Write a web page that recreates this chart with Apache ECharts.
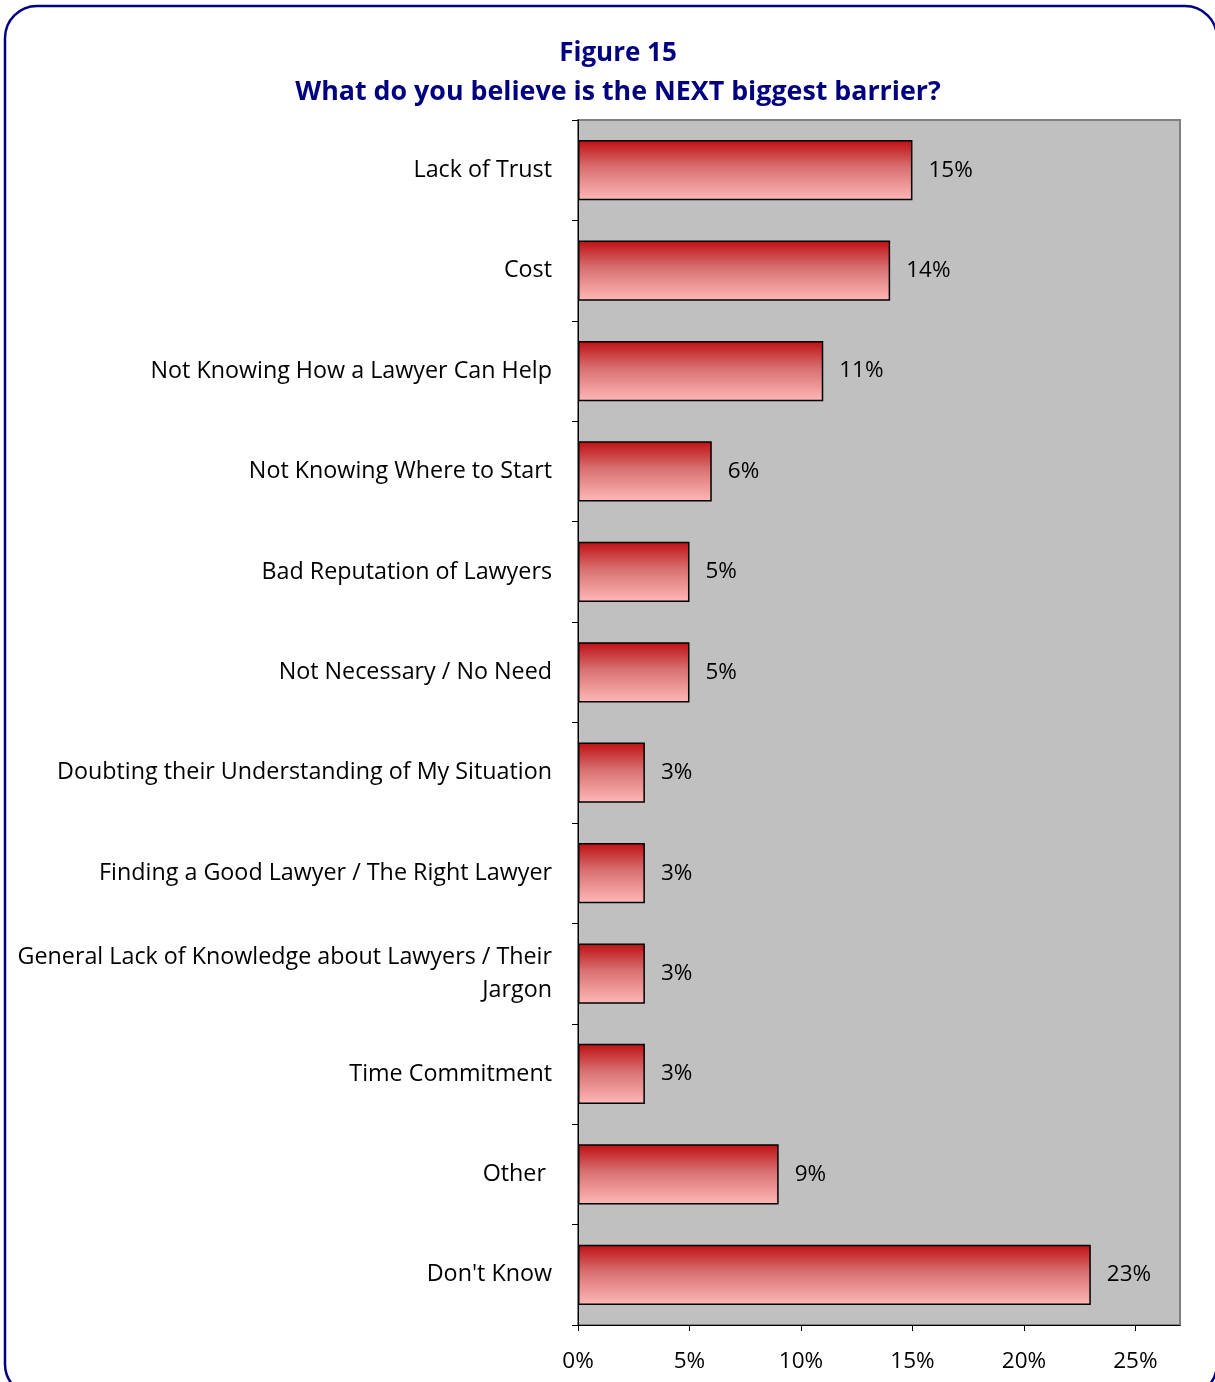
<!DOCTYPE html>
<html><head><meta charset="utf-8">
<script src="https://cdn.jsdelivr.net/npm/echarts@6/dist/echarts.min.js"></script>
<style>html,body{margin:0;padding:0;background:#fff}#c{width:1215px;height:1382px}</style>
</head><body><div id="c"></div>
<script>
const categories = ["Lack of Trust","Cost","Not Knowing How a Lawyer Can Help","Not Knowing Where to Start","Bad Reputation of Lawyers","Not Necessary / No Need","Doubting their Understanding of My Situation","Finding a Good Lawyer / The Right Lawyer","General Lack of Knowledge about Lawyers / Their\nJargon","Time Commitment","Other ","Don't Know"];
const values = [15,14,11,6,5,5,3,3,3,3,9,23];
const titleLines = ["Figure 15","What do you believe is the NEXT biggest barrier?"];

const chart = echarts.init(document.getElementById('c'), null, {renderer:'canvas'});
const FONT = "Open Sans";
chart.setOption({
  animation:false,
  grid:{left:578, top:120, width:602, height:1205, containLabel:false,
    show:true, backgroundColor:'#C0C0C0', borderColor:'#808080', borderWidth:2},
  xAxis:{type:'value', min:0, max:27, interval:5,
    axisLine:{show:true, lineStyle:{color:'#000', width:1}},
    axisTick:{show:true, length:6, lineStyle:{color:'#000'}},
    splitLine:{show:false},
    axisLabel:{formatter:'{value}%', showMaxLabel:false, color:'#000', fontFamily:FONT, fontSize:22.5, margin:25}},
  yAxis:{type:'category', data:categories, inverse:true,
    axisLine:{show:true, lineStyle:{color:'#000', width:1}},
    axisTick:{show:true, length:6, lineStyle:{color:'#000'}},
    axisLabel:{color:'#000', fontFamily:FONT, fontSize:23.3, margin:26, lineHeight:33, align:'right', padding:[8,0,0,0]}},
  series:[{type:'bar', data:values, barCategoryGap:'40%',
    itemStyle:{borderColor:'#000', borderWidth:1.5,
      color:new echarts.graphic.LinearGradient(0,0,0,1,[
        {offset:0,color:'#BE0F12'},{offset:0.45,color:'#D87070'},{offset:1,color:'#FFB8B8'}])},
    label:{show:true, position:'right', distance:16, formatter:'{c}%', color:'#000', fontFamily:FONT, fontSize:22.5, padding:[12,0,0,0]}}],
  graphic:[
    {type:'text', x:618, y:54, style:{text:titleLines[0], textAlign:'center', textVerticalAlign:'middle', fill:'#000080', font:'bold 26px "Open Sans"'}, silent:true},
    {type:'text', x:618, y:92, style:{text:titleLines[1], textAlign:'center', textVerticalAlign:'middle', fill:'#000080', font:'bold 26.8px "Open Sans"'}, silent:true},
    {type:'rect', shape:{x:5, y:6, width:1212, height:1390, r:32},
    style:{fill:null, stroke:'#000080', lineWidth:2.5}, silent:true}]
});
</script></body></html>
